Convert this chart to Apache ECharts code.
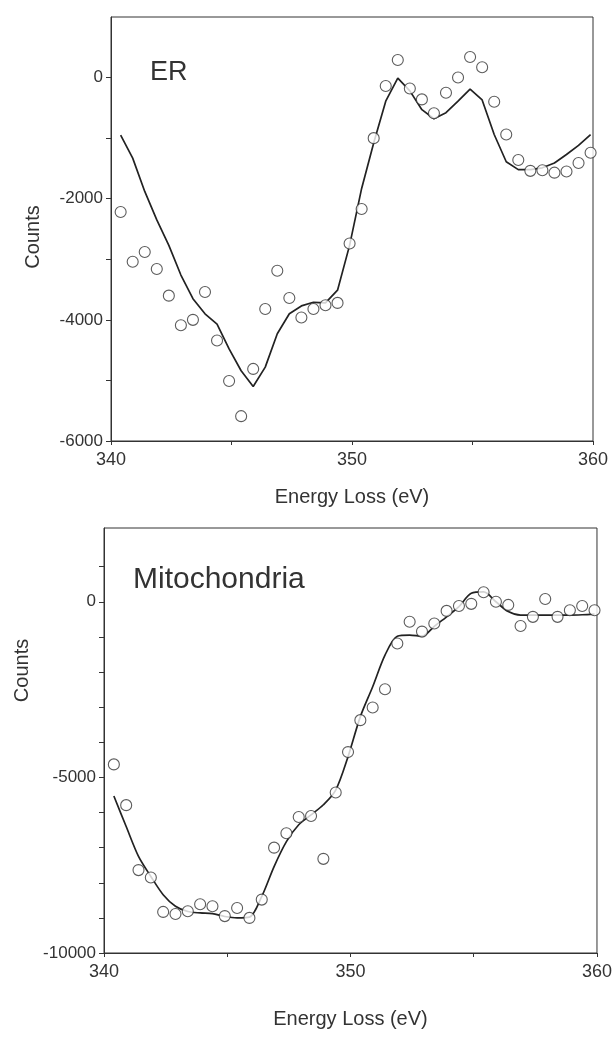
<!DOCTYPE html>
<html><head><meta charset="utf-8">
<script src="https://cdn.jsdelivr.net/npm/echarts@6/dist/echarts.min.js"></script>
<style>html,body{margin:0;padding:0;background:#fff}#c{width:615px;height:1040px}</style>
</head><body><div id="c"></div>
<script>
// Energy loss values (eV) of the sampled points
const energy = [340.4,340.9,341.4,341.9,342.4,342.9,343.4,343.9,344.4,344.9,345.4,345.9,346.4,346.9,347.4,347.9,348.4,348.9,349.4,349.9,350.4,350.9,351.4,351.9,352.4,352.9,353.4,353.9,354.4,354.9,355.4,355.9,356.4,356.9,357.4,357.9,358.4,358.9,359.4,359.9];
// ER panel: measured counts (circles) and fit (line)
const erObs = [-2220,-3040,-2880,-3160,-3600,-4090,-4000,-3540,-4340,-5010,-5590,-4810,-3820,-3190,-3640,-3960,-3820,-3760,-3720,-2740,-2170,-1000,-140,290,-180,-360,-590,-250,0,340,170,-400,-940,-1360,-1540,-1530,-1570,-1550,-1410,-1240];
const erFit = [-950,-1330,-1880,-2350,-2770,-3260,-3650,-3900,-4070,-4480,-4840,-5100,-4780,-4230,-3900,-3770,-3710,-3720,-3510,-2770,-1830,-1080,-390,-10,-220,-530,-680,-580,-390,-190,-370,-940,-1390,-1520,-1520,-1490,-1410,-1270,-1120,-940];
// Mitochondria panel
const mitoObs = [-4630,-5790,-7640,-7850,-8830,-8890,-8810,-8610,-8670,-8950,-8720,-9000,-8480,-7000,-6590,-6130,-6100,-7320,-5430,-4280,-3370,-3010,-2490,-1190,-570,-850,-620,-260,-120,-60,270,0,-90,-690,-430,80,-430,-240,-120,-240];
const mitoFit = [-5530,-6400,-7250,-7820,-8340,-8670,-8820,-8860,-8880,-8960,-9000,-8980,-8390,-7540,-6830,-6350,-6070,-5780,-5360,-4410,-3270,-2420,-1520,-980,-950,-980,-700,-430,-140,240,280,0,-280,-380,-380,-380,-380,-380,-370,-350];
// Axis ticks and labels
const xTicks = [340,345,350,355,360];
const xLabels = [340,350,360];
const erYTicks = [-6000,-5000,-4000,-3000,-2000,-1000,0];
const erYLabels = [-6000,-4000,-2000,0];
const mitoYTicks = [-10000,-9000,-8000,-7000,-6000,-5000,-4000,-3000,-2000,-1000,0,1000];
const mitoYLabels = [-10000,-5000,0];

const FONT = "'Liberation Sans', Arial, Helvetica, sans-serif";
const INK = '#333';
const pair = (xs, ys) => xs.map((x, i) => [x, ys[i]]);

function xAxis(gridIndex, gap) {
  return {
    type: 'value', gridIndex, min: 340, max: 360,
    name: 'Energy Loss (eV)', nameLocation: 'middle', nameGap: gap,
    nameTextStyle: { fontFamily: FONT, fontSize: 20, color: INK },
    axisLine: { show: true, onZero: false, lineStyle: { color: INK, width: 1 } },
    axisTick: { show: true, length: 4, customValues: xTicks, lineStyle: { color: INK } },
    axisLabel: { customValues: xLabels, margin: 10, fontFamily: FONT, fontSize: 18, color: INK, formatter: v => String(v) },
    splitLine: { show: false }
  };
}
function yAxis(gridIndex, min, max, ticks, labels, gap, pad) {
  return {
    type: 'value', gridIndex, min, max,
    name: 'Counts', nameLocation: 'middle', nameGap: gap,
    nameTextStyle: { fontFamily: FONT, fontSize: 20, color: INK, padding: pad },
    axisLine: { show: true, onZero: false, lineStyle: { color: INK, width: 1 } },
    axisTick: { show: true, length: 5, customValues: ticks, lineStyle: { color: INK } },
    axisLabel: { customValues: labels, margin: 8, fontFamily: FONT, fontSize: 17, color: INK, formatter: v => String(v) },
    splitLine: { show: false }
  };
}
const circle = { color: '#fff', borderColor: '#333', borderWidth: 1.1 };

const chart = echarts.init(document.getElementById('c'), null, { renderer: 'canvas' });
chart.setOption({
  backgroundColor: '#fff',
  animation: false,
  grid: [
    { left: 111, top: 17, width: 482, height: 424, show: true, borderColor: INK, borderWidth: 1, backgroundColor: 'transparent' },
    { left: 104, top: 528, width: 493, height: 425, show: true, borderColor: INK, borderWidth: 1, backgroundColor: 'transparent' }
  ],
  xAxis: [xAxis(0, 46), xAxis(1, 56)],
  yAxis: [
    yAxis(0, -6000, 1000, erYTicks, erYLabels, 68, [0, 16, 0, 0]),
    yAxis(1, -10000, 2100, mitoYTicks, mitoYLabels, 62, [0, 0, 0, 140])
  ],
  graphic: [
    { type: 'text', left: 150, top: 59, style: { text: 'ER', fontFamily: FONT, fontSize: 27, fill: INK } },
    { type: 'text', left: 133, top: 565, style: { text: 'Mitochondria', fontFamily: FONT, fontSize: 30, fill: INK } }
  ],
  series: [
    { name: 'ER fit', type: 'line', xAxisIndex: 0, yAxisIndex: 0, data: pair(energy, erFit), showSymbol: false, symbol: 'none', lineStyle: { color: '#222', width: 1.7 }, z: 2 },
    { name: 'ER data', type: 'scatter', xAxisIndex: 0, yAxisIndex: 0, data: pair(energy, erObs), symbol: 'circle', symbolSize: 11, itemStyle: circle, z: 3 },
    { name: 'Mito fit', type: 'line', xAxisIndex: 1, yAxisIndex: 1, data: pair(energy, mitoFit), smooth: 0.3, showSymbol: false, symbol: 'none', lineStyle: { color: '#222', width: 1.7 }, z: 2 },
    { name: 'Mito data', type: 'scatter', xAxisIndex: 1, yAxisIndex: 1, data: pair(energy, mitoObs), symbol: 'circle', symbolSize: 11, itemStyle: circle, z: 3 }
  ]
});
</script>
</body></html>
